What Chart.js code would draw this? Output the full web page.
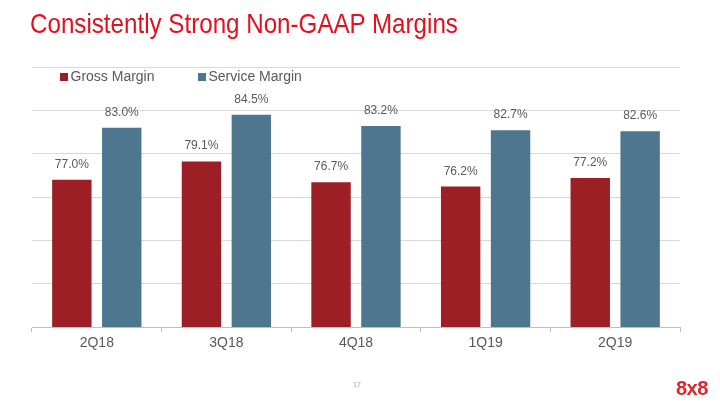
<!DOCTYPE html>
<html>
<head>
<meta charset="utf-8">
<script src="https://cdn.jsdelivr.net/npm/chart.js@4/dist/chart.umd.min.js"></script>
<style>
  html, body { margin: 0; padding: 0; background: #fff; }
  #wrap { position: relative; width: 720px; height: 405px; overflow: hidden; }
  #title { position: absolute; left: 30px; top: 8px; color: #e3101e; font-family: "Liberation Sans", sans-serif; font-size: 28px; white-space: nowrap; transform-origin: 0 0; }
  #page { position: absolute; left: 353px; top: 381px; color: #a6a6a6; font-family: "Liberation Sans", sans-serif; font-size: 7px; }
  #logo { position: absolute; left: 676px; top: 377px; color: #e3242b; font-family: "Liberation Sans", sans-serif; font-weight: bold; font-size: 20px; letter-spacing: -0.5px; }
  canvas { position: absolute; left: 0; top: 0; }
</style>
</head>
<body>
<div id="wrap">
  <canvas id="chart" width="720" height="405"></canvas>
  <div id="title">Consistently Strong Non-GAAP Margins</div>
  <div id="page">17</div>
  <div id="logo">8x8</div>
</div>
<script>
const quarters = ['2Q18', '3Q18', '4Q18', '1Q19', '2Q19'];
const grossMargin = [77.0, 79.1, 76.7, 76.2, 77.2];
const serviceMargin = [83.0, 84.5, 83.2, 82.7, 82.6];
const seriesNames = ['Gross Margin', 'Service Margin'];
const yTicks = [60, 65, 70, 75, 80, 85, 90];

const red = '#9c1f26';
const blue = '#4f768f';
const textGray = '#595959';

// squeeze the title to the narrow width of the original face
const title = document.getElementById('title');
title.style.transform = 'scaleX(' + (428 / title.offsetWidth) + ')';

// value labels above each bar
const barLabels = {
  id: 'barLabels',
  afterDatasetsDraw(chart) {
    const ctx = chart.ctx;
    ctx.save();
    ctx.font = '12px "Liberation Sans", Arial, sans-serif';
    ctx.fillStyle = textGray;
    ctx.textAlign = 'center';
    ctx.textBaseline = 'alphabetic';
    chart.data.datasets.forEach((ds, i) => {
      chart.getDatasetMeta(i).data.forEach((bar, j) => {
        ctx.fillText(ds.data[j].toFixed(1) + '%', bar.x, bar.y - 12);
      });
    });
    ctx.restore();
  }
};

// legend sitting inside the top of the plot
const insideLegend = {
  id: 'insideLegend',
  afterDraw(chart) {
    const ctx = chart.ctx;
    const a = chart.chartArea;
    const starts = [a.left + 28, a.left + 166];
    ctx.save();
    ctx.font = '14px "Liberation Sans", Arial, sans-serif';
    ctx.textBaseline = 'middle';
    chart.data.datasets.forEach((ds, i) => {
      const x = starts[i], y = a.top + 10;
      ctx.fillStyle = ds.backgroundColor;
      ctx.fillRect(x, y - 4, 8, 8);
      ctx.fillStyle = textGray;
      ctx.fillText(ds.label, x + 10.5, y);
    });
    ctx.restore();
  }
};

new Chart(document.getElementById('chart'), {
  type: 'bar',
  data: {
    labels: quarters,
    datasets: [
      { label: seriesNames[0], data: grossMargin, backgroundColor: red },
      { label: seriesNames[1], data: serviceMargin, backgroundColor: blue }
    ]
  },
  options: {
    responsive: false,
    animation: false,
    layout: { padding: { left: 32, right: 40, top: 67, bottom: 8 } },
    categoryPercentage: 0.77,
    barPercentage: 0.79,
    plugins: {
      legend: { display: false },
      tooltip: { enabled: false }
    },
    scales: {
      x: {
        afterFit(scale) { scale.height = 70; },
        grid: { offset: true, drawOnChartArea: false, tickLength: 5, color: '#bfbfbf' },
        border: { color: '#bfbfbf' },
        ticks: { color: textGray, font: { family: '"Liberation Sans", Arial, sans-serif', size: 14 }, padding: 3 }
      },
      y: {
        min: yTicks[0],
        max: yTicks[yTicks.length - 1],
        afterFit(scale) { scale.width = 0; },
        afterBuildTicks(scale) { scale.ticks = yTicks.map(v => ({ value: v })); },
        ticks: { display: false },
        border: { display: false },
        grid: { color: '#d9d9d9', drawTicks: false }
      }
    }
  },
  plugins: [barLabels, insideLegend]
});
</script>
</body>
</html>
